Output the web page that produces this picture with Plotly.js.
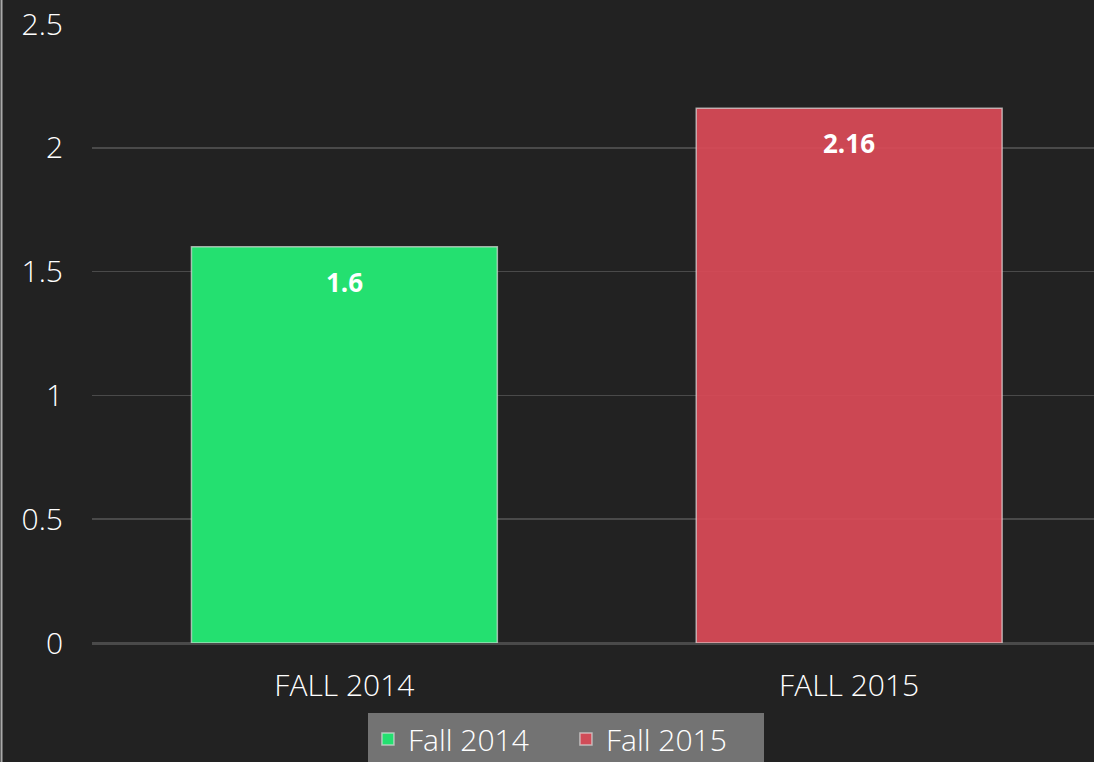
<!DOCTYPE html>
<html>
<head>
<meta charset="utf-8">
<script src="https://cdn.plot.ly/plotly-3.0.1.min.js"></script>
<style>html,body{margin:0;padding:0;background:#222222;}#chart{width:1094px;height:762px;}</style>
</head>
<body>
<div id="chart"></div>
<script>
const categories = ["FALL 2014", "FALL 2015"];
const seriesNames = ["Fall 2014", "Fall 2015"];
const seriesValues = [1.6, 2.16];
const seriesColors = ["#24e070", "rgba(214,74,86,0.95)"];
const yTicks = [0, 0.5, 1, 1.5, 2, 2.5];
const yTickLabels = ["0", "0.5", "1", "1.5", "2", "2.5"];

const font = "'Open Sans', Lato, sans-serif";

const traces = seriesNames.map((name, i) => ({
  type: "bar",
  name: name,
  x: [categories[i]],
  y: [seriesValues[i]],
  marker: {color: seriesColors[i], line: {color: "rgba(220,220,220,0.7)", width: 1.5}},
  hoverinfo: "skip"
}));

const annotations = seriesValues.map((v, i) => ({
  x: categories[i], y: v, xref: "x", yref: "y",
  text: "<b>" + v + "</b>", showarrow: false, yshift: -35,
  font: {family: font, size: 26, color: "#ffffff"}
}));

const layout = {
  width: 1094, height: 762,
  paper_bgcolor: "#222222", plot_bgcolor: "#222222",
  margin: {l: 92, r: 0, t: 24, b: 119, autoexpand: false},
  barmode: "group", bargap: 0.394,
  showlegend: true,
  legend: {
    orientation: "h", x: 0.473, xanchor: "center", y: -0.113, yanchor: "top",
    bgcolor: "#737373", font: {family: font, size: 30, color: "#ffffff", weight: 300},
    itemclick: false, itemdoubleclick: false, entrywidth: 153, tracegroupgap: 0
  },
  xaxis: {
    type: "category", categoryorder: "array", categoryarray: categories,
    range: [-0.5, 1.485],
    showgrid: false, zeroline: false, showline: false, ticks: "",
    ticklabelstandoff: 22,
    tickfont: {family: font, size: 30, color: "#ffffff", weight: 300}
  },
  yaxis: {
    range: [0, 2.5], tickvals: yTicks, ticktext: yTickLabels,
    showgrid: true, gridcolor: "#4a4a4a", gridwidth: 1.5,
    zeroline: true, zerolinecolor: "#4a4a4a", zerolinewidth: 3,
    showline: false, ticks: "", ticklabelstandoff: 28,
    tickfont: {family: font, size: 30, color: "#ffffff", weight: 300}
  },
  annotations: annotations,
  shapes: [{type: "line", xref: "paper", yref: "paper", x0: -0.0903, x1: -0.0903, y0: -0.2, y1: 1.05,
            line: {color: "#aaaaaa", width: 2}}]
};

Plotly.newPlot("chart", traces, layout, {displayModeBar: false, staticPlot: true});
</script>
</body>
</html>
